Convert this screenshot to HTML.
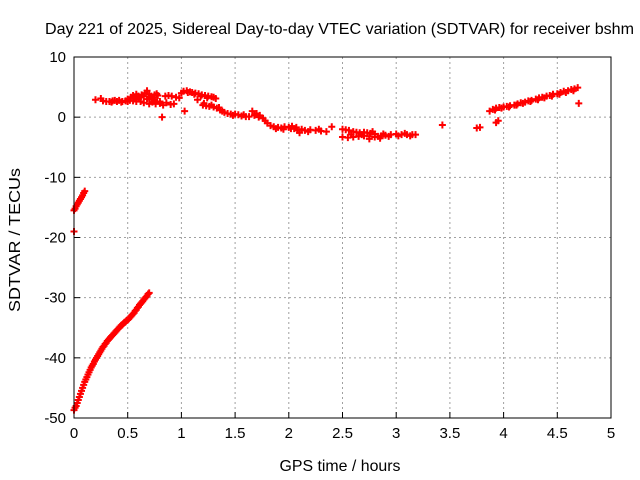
<!DOCTYPE html>
<html><head><meta charset="utf-8"><style>
body{margin:0;background:#fff;}
svg{display:block;font-family:"Liberation Sans",sans-serif;}
</style></head><body>
<svg id="chart" width="640" height="480" viewBox="0 0 640 480" xmlns="http://www.w3.org/2000/svg">
<rect width="640" height="480" fill="#fff"/>
<text x="339.5" y="34" font-size="16" text-anchor="middle" textLength="589" lengthAdjust="spacingAndGlyphs">Day 221 of 2025, Sidereal Day-to-day VTEC variation (SDTVAR) for receiver bshm</text>
<text x="340" y="471" font-size="16" text-anchor="middle" textLength="121" lengthAdjust="spacingAndGlyphs">GPS time / hours</text>
<text x="20" y="240" font-size="16" text-anchor="middle" textLength="144" lengthAdjust="spacingAndGlyphs" transform="rotate(-90 20 240)">SDTVAR / TECUs</text>
<g id="grid"></g><g id="ticks"></g><g id="marks"></g>
<rect x="74" y="57" width="537" height="361" fill="none" stroke="#000" stroke-width="1"/>
</svg>
<script>
const xTicks=[0,0.5,1,1.5,2,2.5,3,3.5,4,4.5,5];
const xTickLabels=["0","0.5","1","1.5","2","2.5","3","3.5","4","4.5","5"];
const yTicks=[10,0,-10,-20,-30,-40,-50];
const yTickLabels=["10","0","-10","-20","-30","-40","-50"];
// data: [hours, TECU]
const seriesLow=[[0,-48.7],[0.02,-48],[0.04,-47],[0.06,-46],[0.08,-45],[0.1,-44],[0.12,-43.2],[0.14,-42.4],[0.16,-41.6],[0.18,-41],[0.2,-40.3],[0.22,-39.7],[0.24,-39.1],[0.26,-38.5],[0.28,-38],[0.3,-37.5],[0.32,-37],[0.34,-36.6],[0.36,-36.2],[0.38,-35.8],[0.4,-35.4],[0.42,-35],[0.44,-34.6],[0.46,-34.3],[0.48,-34],[0.5,-33.7],[0.52,-33.3],[0.54,-32.9],[0.56,-32.5],[0.58,-32],[0.6,-31.5],[0.62,-31],[0.64,-30.6],[0.66,-30.1],[0.68,-29.7],[0.7,-29.2],[0.01,-48.3],[0.03,-47.5],[0.05,-46.5],[0.07,-45.5],[0.09,-44.5],[0.11,-43.6],[0.13,-42.8],[0.15,-42],[0.17,-41.3],[0.19,-40.6],[0.21,-40],[0.23,-39.4],[0.25,-38.8],[0.27,-38.2],[0.29,-37.7],[0.31,-37.2],[0.33,-36.8],[0.35,-36.4],[0.37,-36],[0.39,-35.6],[0.41,-35.2],[0.43,-34.8],[0.45,-34.5],[0.47,-34.1],[0.49,-33.8],[0.51,-33.5],[0.53,-33.1],[0.55,-32.7],[0.57,-32.2],[0.59,-31.7],[0.61,-31.2],[0.63,-30.8],[0.65,-30.3],[0.67,-29.9],[0.69,-29.4]];
const seriesEarly=[[0,-19],[0,-15.5],[0.01,-15.2],[0.02,-14.8],[0.03,-14.5],[0.04,-14.2],[0.05,-13.9],[0.06,-13.6],[0.07,-13.3],[0.08,-13],[0.09,-12.6],[0.1,-12.3]];
const seriesMain=[[0.2,2.9],[0.25,3.1],[0.27,2.7],[0.3,2.6],[0.33,2.6],[0.36,2.7],[0.4,2.6],[0.42,2.8],[0.45,2.6],[0.48,2.7],[0.5,2.6],[0.52,2.8],[0.55,2.7],[0.58,2.6],[0.6,3.0],[0.62,2.6],[0.55,3.6],[0.58,3.8],[0.6,3.5],[0.63,3.7],[0.66,4.0],[0.68,4.4],[0.7,3.8],[0.72,3.5],[0.75,3.7],[0.78,3.6],[0.65,2.4],[0.7,2.2],[0.73,2.5],[0.76,2.2],[0.8,2.3],[0.83,2.0],[0.86,2.4],[0.9,2.1],[0.93,2.2],[0.68,3.0],[0.72,3.1],[0.75,2.9],[0.85,3.5],[0.88,3.6],[0.91,3.5],[0.95,3.3],[0.82,0.0],[1.03,1.0],[1.15,2.9],[0.98,3.2],[1.02,4.3],[1.05,4.4],[1.08,4.2],[1.1,4.1],[1.13,4.0],[1.16,3.9],[1.19,3.7],[1.22,3.6],[1.25,3.5],[1.28,3.4],[1.3,3.3],[1.2,2.0],[1.23,1.9],[1.26,1.8],[1.3,1.7],[1.33,1.5],[1.36,1.2],[1.4,0.8],[1.43,0.6],[1.46,0.5],[1.5,0.5],[1.53,0.4],[1.56,0.2],[1.6,0.1],[1.63,0.1],[1.66,1.0],[1.7,0.6],[1.73,0.3],[1.76,-0.2],[1.8,-1.0],[1.83,-1.4],[1.86,-1.6],[1.9,-1.7],[1.93,-1.8],[1.96,-1.6],[2.0,-1.7],[2.03,-1.5],[2.05,-1.9],[2.08,-2.2],[2.1,-2.6],[2.12,-2.0],[2.15,-2.2],[2.2,-2.1],[2.25,-2.2],[2.3,-2.3],[2.35,-2.4],[2.4,-1.6],[2.5,-2.0],[2.53,-2.1],[2.56,-2.2],[2.6,-2.4],[2.63,-2.5],[2.66,-2.6],[2.7,-2.5],[2.73,-2.6],[2.76,-2.7],[2.8,-2.8],[2.5,-3.3],[2.55,-3.4],[2.6,-3.3],[2.65,-3.2],[2.7,-3.1],[2.75,-3.2],[2.8,-3.3],[2.83,-3.2],[2.86,-3.1],[2.9,-3.0],[2.95,-2.9],[3.0,-2.8],[3.05,-2.9],[3.1,-2.9],[3.15,-2.9],[2.75,-3.6],[2.85,-3.5],[0.35,2.5],[0.38,2.8],[0.44,2.5],[0.5,3.0],[0.53,3.3],[0.56,3.2],[0.62,3.3],[0.65,3.5],[0.7,3.3],[0.74,3.2],[0.77,3.9],[0.8,2.6],[1.0,4.0],[1.06,4.1],[1.12,3.8],[1.18,3.5],[1.24,3.2],[1.32,3.1],[1.21,2.3],[1.28,2.0],[1.35,1.6],[1.38,1.0],[1.48,0.3],[1.58,0.4],[1.68,0.3],[1.72,0.0],[1.78,-0.6],[1.88,-1.9],[1.95,-2.0],[2.02,-1.9],[2.07,-1.7],[2.18,-2.4],[2.28,-2.0],[2.58,-2.9],[2.68,-2.9],[2.78,-2.4],[2.88,-2.8],[2.93,-3.2],[3.02,-3.1],[3.08,-2.7],[3.13,-3.1],[3.18,-2.9]];
const seriesLate=[[3.43,-1.3],[3.75,-1.8],[3.78,-1.7],[3.87,1.0],[3.9,1.3],[3.93,1.5],[3.96,1.6],[4.0,1.7],[4.03,1.8],[4.06,1.9],[4.1,2.0],[4.13,2.2],[4.16,2.4],[4.2,2.5],[4.23,2.7],[4.26,2.8],[4.3,3.0],[4.33,3.2],[4.36,3.3],[4.4,3.5],[4.43,3.6],[4.46,3.8],[4.5,3.9],[4.53,4.1],[4.56,4.3],[4.6,4.4],[4.63,4.6],[4.66,4.7],[4.69,4.9],[3.93,-0.9],[3.95,-0.6],[4.7,2.3],[3.92,1.2],[3.98,1.5],[4.05,1.7],[4.12,2.0],[4.18,2.3],[4.25,2.6],[4.32,2.9],[4.38,3.2],[4.45,3.5],[4.52,3.8],[4.58,4.1],[4.65,4.4]];
const X0=74,X1=611,Y0=418,Y1=57,XMIN=0,XMAX=5,YMIN=-50,YMAX=10;
const sx=v=>X0+(v-XMIN)/(XMAX-XMIN)*(X1-X0);
const sy=v=>Y0-(v-YMIN)/(YMAX-YMIN)*(Y0-Y1);
const NS="http://www.w3.org/2000/svg";
function mk(tag,attrs,parent){const e=document.createElementNS(NS,tag);for(const k in attrs)e.setAttribute(k,attrs[k]);parent.appendChild(e);return e;}
const grid=document.getElementById('grid'),ticks=document.getElementById('ticks'),marks=document.getElementById('marks');
xTicks.forEach((t,i)=>{const x=sx(t);
 if(i>0&&i<xTicks.length-1){const g=mk('line',{x1:x,x2:x,y1:Y1,y2:Y0,stroke:'#a0a0a0','stroke-dasharray':'2,3'},grid);
 
 }
 const tl=mk('line',{x1:x,x2:x,y1:Y0,y2:Y0-6,stroke:'#000'},ticks);
 
 
 const tx=mk('text',{x:x,y:Y0+20,'font-size':15,'text-anchor':'middle'},ticks);tx.textContent=xTickLabels[i];
 
 
});
yTicks.forEach((t,i)=>{const y=sy(t);
 if(i>0&&i<yTicks.length-1){const g=mk('line',{x1:X0,x2:X1,y1:y,y2:y,stroke:'#a0a0a0','stroke-dasharray':'2,3'},grid);
 
 }
 const tl=mk('line',{x1:X0,x2:X0+6,y1:y,y2:y,stroke:'#000'},ticks);
 
 
 const tx=mk('text',{x:X0-8,y:y+5,'font-size':15,'text-anchor':'end'},ticks);tx.textContent=yTickLabels[i];
 
 
});
[seriesLow,seriesEarly,seriesMain,seriesLate].forEach(s=>s.forEach(p=>{
 const x=sx(p[0]),y=sy(p[1]);
 const m=mk('path',{d:`M${x-3.5},${y}H${x+3.5}M${x},${y-3.5}V${y+3.5}`,stroke:'#f00','stroke-width':2,fill:'none'},marks);
 
 
}));
</script>
</body></html>
